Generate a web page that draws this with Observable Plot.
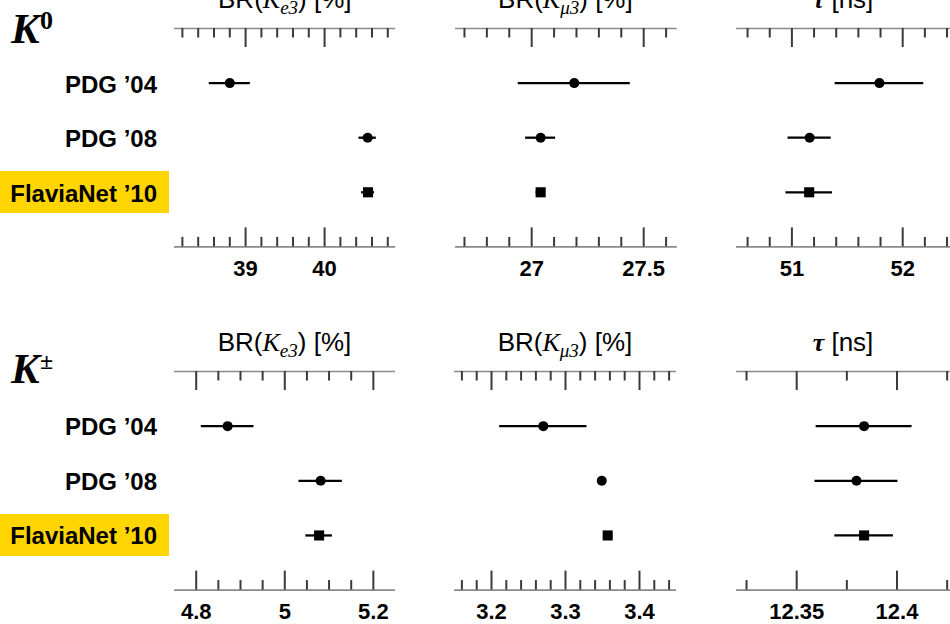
<!DOCTYPE html>
<html><head><meta charset="utf-8">
<script src="https://cdn.jsdelivr.net/npm/d3@7"></script>
<script src="https://cdn.jsdelivr.net/npm/@observablehq/plot@0.6"></script>
<style>
html,body{margin:0;padding:0;background:#fff;}
#root{position:relative;width:950px;height:624px;overflow:hidden;font-family:"Liberation Sans",Arial,Helvetica,sans-serif;color:#000;}
.title{position:absolute;font-size:26px;white-space:nowrap;text-align:center;line-height:1;}
.serif{font-family:"Liberation Serif","Times New Roman",serif;font-style:italic;}
.sub{font-size:19px;position:relative;top:6px;}
.tau{font-family:"Liberation Serif","Times New Roman",serif;font-style:italic;font-weight:bold;}
.rowlab{position:absolute;left:0;width:157px;font-weight:bold;font-size:24px;text-align:right;white-space:nowrap;line-height:1;}
.hl{position:absolute;left:0;width:169px;height:42px;background:#FFD500;}
.big{position:absolute;font-family:"Liberation Serif","Times New Roman",serif;font-weight:bold;line-height:1;white-space:nowrap;}
</style></head><body><div id="root"></div>
<script>
// ---------- data ----------
const rows = ["PDG ’04", "PDG ’08", "FlaviaNet ’10"];
const rowMarker = ["circle", "circle", "square"];

// K0 (top block)
const k0Ke3Val = [38.80, 40.545, 40.55];
const k0Ke3Err = [0.26, 0.11, 0.082];
const k0Km3Val = [27.19, 27.04, 27.04];
const k0Km3Err = [0.25, 0.067, 0.02];
const k0TauVal = [51.79, 51.16, 51.156];
const k0TauErr = [0.40, 0.195, 0.21];

// K± (bottom block)
const kpKe3Val = [4.871, 5.081, 5.0775];
const kpKe3Err = [0.0595, 0.049, 0.030];
const kpKm3Val = [3.270, 3.349, 3.357];
const kpKm3Err = [0.059, 0.005, 0.005];
const kpTauVal = [12.3836, 12.3798, 12.3836];
const kpTauErr = [0.0239, 0.0207, 0.0146];

// axis domains and ticks
const k0Ke3Domain = [38.1, 40.9];
const k0Ke3Major = [39, 40];
const k0Ke3Minor = [38.2, 38.4, 38.6, 38.8, 39.2, 39.4, 39.6, 39.8, 40.2, 40.4, 40.6, 40.8];
const k0Km3Domain = [26.66, 27.65];
const k0Km3Major = [27, 27.5];
const k0Km3Minor = [26.7, 26.8, 26.9, 27.1, 27.2, 27.3, 27.4, 27.6];
const k0TauDomain = [50.5, 52.5];
const k0TauMajor = [51, 52];
const k0TauMinor = [50.6, 50.8, 51.2, 51.4, 51.6, 51.8, 52.2, 52.4];
const kpKe3Domain = [4.751, 5.25];
const kpKe3Major = [4.8, 5.0, 5.2];
const kpKe3Minor = [4.85, 4.9, 4.95, 5.05, 5.1, 5.15];
const kpKm3Domain = [3.15, 3.45];
const kpKm3Major = [3.2, 3.3, 3.4];
const kpKm3Minor = [3.16, 3.18, 3.22, 3.24, 3.26, 3.28, 3.32, 3.34, 3.36, 3.38, 3.42, 3.44];
const kpTauDomain = [12.32, 12.43];
const kpTauMajor = [12.35, 12.4];
const kpTauMinor = [12.325, 12.375, 12.425];

const titleKe3 = 'BR(<span class="serif">K<span class="sub">e3</span></span>) [%]';
const titleKm3 = 'BR(<span class="serif">K<span class="sub">μ3</span></span>) [%]';
const titleTau = '<span class="tau">τ</span> [ns]';

// ---------- layout ----------
const root = document.getElementById("root");
const topBlock = {yTop: 28.3, yBot: 246.7};
const botBlock = {yTop: 370.7, yBot: 589.3};

const panels = [
  {b: topBlock, x0: 174.2, x1: 395.4, domain: k0Ke3Domain, majors: k0Ke3Major, minors: k0Ke3Minor, vals: k0Ke3Val, errs: k0Ke3Err, title: titleKe3},
  {b: topBlock, x0: 454.5, x1: 676.3, domain: k0Km3Domain, majors: k0Km3Major, minors: k0Km3Minor, vals: k0Km3Val, errs: k0Km3Err, title: titleKm3},
  {b: topBlock, x0: 736.0, x1: 957.6, domain: k0TauDomain, majors: k0TauMajor, minors: k0TauMinor, vals: k0TauVal, errs: k0TauErr, title: titleTau, tcx: 843},
  {b: botBlock, x0: 174.0, x1: 395.0, domain: kpKe3Domain, majors: kpKe3Major, minors: kpKe3Minor, vals: kpKe3Val, errs: kpKe3Err, title: titleKe3},
  {b: botBlock, x0: 454.0, x1: 676.0, domain: kpKm3Domain, majors: kpKm3Major, minors: kpKm3Minor, vals: kpKm3Val, errs: kpKm3Err, title: titleKm3},
  {b: botBlock, x0: 735.7, x1: 956.4, domain: kpTauDomain, majors: kpTauMajor, minors: kpTauMinor, vals: kpTauVal, errs: kpTauErr, title: titleTau, tcx: 843}
];

const M = 40, mt = 12, mb = 44;
const majorLen = 19, minorLen = 9.5;

for (const p of panels) {
  const frameH = p.b.yBot - p.b.yTop;
  const width = p.x1 - p.x0 + 2 * M;
  const height = mt + frameH + mb;
  const u = 4 / frameH;
  const data = rows.map((name, i) => ({name, row: i + 1, v: p.vals[i], e: p.errs[i], marker: rowMarker[i]}));
  const chart = Plot.plot({
    width, height,
    marginLeft: M, marginRight: M, marginTop: mt, marginBottom: mb,
    x: {domain: p.domain},
    y: {domain: [0, 4], reverse: true, axis: null},
    style: {background: "transparent", overflow: "visible", fontFamily: "Liberation Sans, Arial, sans-serif", fontSize: "22px", fontWeight: "bold", color: "black"},
    marks: [
      Plot.ruleY([0, 4], {stroke: "#8a8a8a", strokeWidth: 1.6}),
      Plot.ruleX(p.majors, {x: d => d, y1: 0, y2: majorLen * u, stroke: "#3a3a3a", strokeWidth: 2}),
      Plot.ruleX(p.minors, {x: d => d, y1: 0, y2: minorLen * u, stroke: "#3a3a3a", strokeWidth: 2}),
      Plot.ruleX(p.majors, {x: d => d, y1: 4, y2: 4 - majorLen * u, stroke: "#3a3a3a", strokeWidth: 2}),
      Plot.ruleX(p.minors, {x: d => d, y1: 4, y2: 4 - minorLen * u, stroke: "#3a3a3a", strokeWidth: 2}),
      Plot.axisX({anchor: "bottom", ticks: p.majors, tickSize: 0, tickPadding: 13, tickFormat: d => String(d), fontSize: 22, fontWeight: "bold", label: null}),
      Plot.ruleY(data, {y: "row", x1: d => d.v - d.e, x2: d => d.v + d.e, stroke: "black", strokeWidth: 2.3}),
      Plot.dot(data.filter(d => d.marker === "circle"), {x: "v", y: "row", r: 5, fill: "black", symbol: "circle"}),
      Plot.dot(data.filter(d => d.marker === "square"), {x: "v", y: "row", r: 5.7, fill: "black", symbol: "square"})
    ]
  });
  chart.style.position = "absolute";
  chart.style.left = (p.x0 - M) + "px";
  chart.style.top = (p.b.yTop - mt) + "px";
  root.appendChild(chart);

  // title
  const cx = p.tcx ?? (p.x0 + p.x1) / 2;
  const t = document.createElement("div");
  t.className = "title";
  t.style.left = (cx - 150) + "px";
  t.style.width = "300px";
  t.style.top = (p.b.yTop - 20 - 0.8465 * 26) + "px";
  t.innerHTML = p.title;
  root.appendChild(t);
}

// row labels
for (const b of [topBlock, botBlock]) {
  const step = (b.yBot - b.yTop) / 4;
  rows.forEach((name, i) => {
    const y = b.yTop + step * (i + 1);
    if (rowMarker[i] === "square") {
      const hl = document.createElement("div");
      hl.className = "hl";
      hl.style.top = (y - 21) + "px";
      root.appendChild(hl);
    }
    const l = document.createElement("div");
    l.className = "rowlab";
    l.style.top = (y + 10 - 0.8465 * 24) + "px";
    l.textContent = name;
    root.appendChild(l);
  });
}

// block labels K0 and K±
function bigLabel(base, sup, baseline, supBaseline, supSize) {
  const k = document.createElement("div");
  k.className = "big";
  k.style.fontStyle = "italic";
  k.style.fontSize = "43px";
  k.style.left = "11px";
  k.style.top = (baseline - 0.8375 * 43) + "px";
  k.textContent = base;
  root.appendChild(k);
  const s = document.createElement("div");
  s.className = "big";
  s.style.fontSize = supSize + "px";
  s.style.left = "40px";
  s.style.top = (supBaseline - 0.8375 * supSize) + "px";
  s.textContent = sup;
  root.appendChild(s);
}
bigLabel("K", "0", 43.3, 30, 26);
bigLabel("K", "±", 382.7, 369, 24);
</script></body></html>
